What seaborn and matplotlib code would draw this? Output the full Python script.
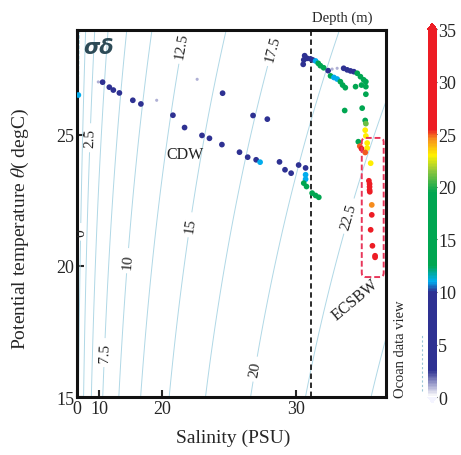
import matplotlib
matplotlib.use('Agg')
import matplotlib.pyplot as plt
from matplotlib.colors import LinearSegmentedColormap, Normalize
from matplotlib.patches import FancyBboxPatch
from matplotlib.lines import Line2D
import seaborn as sns
import numpy as np
import pandas as pd

# station data: salinity (PSU), potential temperature (degC), depth (m)
salinity = [1.1, 9.8, 10.9, 12.4, 13.2, 14.3, 16.4, 17.5, 19.4, 21.1, 22.2, 23.7, 24.3, 25.25,
            26.5, 27.05, 27.6, 27.85, 29.03, 29.35, 29.7, 30.12, 30.5, 23.3, 25.3, 27.4, 28.3,
            30.5, 30.5, 30.4, 30.55, 30.85, 31.03, 31.2,
            30.4, 30.45, 30.4, 30.37, 30.58, 30.76, 30.88, 31.03, 31.17, 31.28, 31.45, 31.68,
            31.88, 32.13, 32.45, 32.62, 32.78, 32.94, 33.10, 33.25, 33.40, 33.50, 31.80, 31.97,
            32.13, 32.29, 32.40, 32.53, 33.02, 33.30, 33.50, 33.50, 32.50, 33.33,
            33.47, 33.50, 33.47, 33.50, 33.15, 33.22, 33.30, 33.56, 33.56, 33.47, 33.72, 33.64,
            33.67, 33.67, 33.67, 33.68, 33.77, 33.77, 33.72, 33.80, 33.92, 33.92]
theta = [26.52, 27.02, 27.01, 26.82, 26.71, 26.60, 26.32, 26.18, 26.32, 25.75, 25.28, 24.98, 24.87, 24.63,
         24.34, 24.15, 24.05, 23.96, 23.97, 23.67, 23.54, 23.85, 23.74, 27.12, 26.59, 25.74, 25.60,
         23.48, 23.31, 23.16, 23.03, 22.78, 22.69, 22.62,
         28.05, 28.02, 27.86, 27.69, 27.92, 27.90, 27.86, 27.82, 27.73, 27.64, 27.56, 27.45,
         27.51, 27.54, 27.54, 27.48, 27.44, 27.41, 27.35, 27.22, 27.10, 27.03, 27.25, 27.19,
         27.13, 27.03, 26.90, 26.80, 26.84, 26.90, 26.84, 26.55, 25.93, 26.02,
         25.55, 25.43, 25.18, 24.96, 24.74, 24.57, 24.47, 24.69, 24.50, 24.33, 23.92, 23.25,
         23.13, 23.02, 22.90, 22.83, 22.33, 21.95, 21.38, 20.77, 20.39, 20.33]
depth = [11, 1, 5, 5, 5, 5, 5, 5, 1, 5, 5, 5, 5, 5,
         5, 5, 9, 11, 5, 5, 5, 5, 6, 1, 5, 5, 5,
         11, 11, 15, 15, 16, 16, 17,
         1, 5, 5, 5, 5, 5, 5, 11, 14, 15, 16, 5,
         1, 1, 5, 5, 5, 5, 13, 15, 16, 16, 14, 11,
         11, 14, 15, 16, 16, 16, 17, 17, 17, 17,
         18, 21, 23, 23, 17, 25, 30, 23, 23, 25, 23, 27,
         30, 30, 30, 30, 24.5, 25.5, 27, 30, 31, 31]

sigma_levels = [-2.5, 0, 2.5, 5, 7.5, 10, 12.5, 15, 17.5, 20, 22.5, 25]
label_spots = [(7.4, 24.89), (4.5, 21.3), (15.8, 20.2), (11.0, 16.7), (22.1, 28.39),
               (22.7, 21.57), (28.6, 28.3), (27.7, 16.05), (32.5, 21.95)]
cbar_ticks = [0, 5, 10, 15, 20, 25, 30, 35]

cmap_stops = [0, 2.5, 10, 11, 12.5, 19.5, 21.5, 23, 24.5, 25.5, 35]
cmap_colors = ['#ffffff', '#2e3192', '#2e3192', '#00aeef', '#00a651', '#00a651',
               '#8dc63f', '#fff200', '#f7941d', '#ed1c24', '#ed1c24']

sns.set_style('ticks')
plt.rcParams['font.family'] = ['Liberation Serif', 'DejaVu Serif']
plt.rcParams['mathtext.fontset'] = 'stix'


def fwd(s):
    s = np.asarray(s, dtype=float)
    return 1.15 * s + 0.055 * s ** 2 + 0.005 * s ** 3


_grid = np.linspace(-80, 150, 40001)


def inv(x):
    return np.interp(x, fwd(_grid), _grid)


def sigma0(s, t):
    rw = (999.842594 + 6.793952e-2 * t - 9.095290e-3 * t ** 2 + 1.001685e-4 * t ** 3
          - 1.120083e-6 * t ** 4 + 6.536332e-9 * t ** 5)
    a = 0.824493 - 4.0899e-3 * t + 7.6438e-5 * t ** 2 - 8.2467e-7 * t ** 3 + 5.3875e-9 * t ** 4
    b = -5.72466e-3 + 1.0227e-4 * t - 1.6546e-6 * t ** 2
    return rw + a * s + b * s ** 1.5 + 4.8314e-4 * s ** 2 - 1000


norm = Normalize(0, 35)
cmap = LinearSegmentedColormap.from_list(
    'odv', list(zip(np.array(cmap_stops) / 35.0, cmap_colors)))
cmap.set_under('#f4f4ff')
cmap.set_over('#ed1c24')

df = pd.DataFrame({'Salinity': salinity, 'Theta': theta, 'Depth': depth})
df['dot'] = np.where(df['Depth'] < 3, 5, 17)

fig = plt.figure(figsize=(4.61, 4.56), dpi=100)
ax = fig.add_axes([0.167, 0.127, 0.670, 0.805])
ax.set_xscale('function', functions=(fwd, inv))
ax.set_xlim(0, 34.4)
ax.set_ylim(15, 29)

S, T = np.meshgrid(np.linspace(0, 34.4, 400), np.linspace(15, 29, 200))
cs = ax.contour(S, T, sigma0(S, T), levels=sigma_levels, colors='#b0d8e6', linewidths=0.7)
ax.clabel(cs, inline=True, fontsize=11, colors='#222222', manual=label_spots,
          fmt=lambda v: f'{v:g}')

ax.axvline(30.8, color='#1a1a1a', ls=(0, (3, 2)), lw=1.3)

sns.scatterplot(data=df, x='Salinity', y='Theta', hue='Depth', palette=cmap, hue_norm=norm,
                size='dot', sizes=(5, 17), linewidth=0, legend=False, ax=ax, zorder=3)

ax.add_patch(FancyBboxPatch((0.922, 0.327), 0.071, 0.379, transform=ax.transAxes,
                            boxstyle='round,pad=0,rounding_size=0.012', fill=False,
                            ec='#e8365a', ls=(0, (3, 1.5)), lw=1.4, zorder=4))

ax.text(0.35, 0.662, 'CDW', transform=ax.transAxes, fontsize=11.5, ha='center', va='center',
        color='#222222')
ax.text(0.90, 0.267, 'ECSBW', transform=ax.transAxes, fontsize=11.5, ha='center', va='center',
        rotation=40, color='#222222')
ax.text(0.02, 0.955, 'σδ', transform=ax.transAxes, fontsize=15, fontweight='bold',
        fontstyle='italic', family=['DejaVu Sans'], ha='left', va='center', color='#2d4b57')

ax.set_xticks([0, 10, 20, 30])
ax.set_yticks([15, 20, 25])
ax.tick_params(direction='in', length=5, width=1.5, labelsize=13, pad=2)
for sp in ax.spines.values():
    sp.set_linewidth(2.2)
    sp.set_color('#111111')

ax.set_xlabel('Salinity (PSU)', fontsize=14)
ax.set_ylabel('Potential temperature $\\theta$( degC)', fontsize=14)
ax.xaxis.set_label_coords(0.505, -0.085)
ax.yaxis.set_label_coords(-0.15, 0.46)

cax = fig.add_axes([0.928, 0.114, 0.0195, 0.833])
sm = plt.cm.ScalarMappable(norm=norm, cmap=cmap)
cb = fig.colorbar(sm, cax=cax, extend='both', extendfrac=0.016, ticks=cbar_ticks)
cb.outline.set_visible(False)
cax.tick_params(length=2, width=0.8, direction='in', labelsize=13, pad=1)

fig.text(0.677, 0.96, 'Depth (m)', fontsize=10.5, ha='left', va='center')
fig.text(0.868, 0.127, 'Ocoan data view', fontsize=10.5, rotation=90, ha='center', va='bottom')
fig.add_artist(Line2D([0.916, 0.916], [0.14, 0.265], transform=fig.transFigure,
                      color='#9cc7d6', lw=0.8, ls=(0, (2, 2))))

fig.savefig('out.png', dpi=100)
